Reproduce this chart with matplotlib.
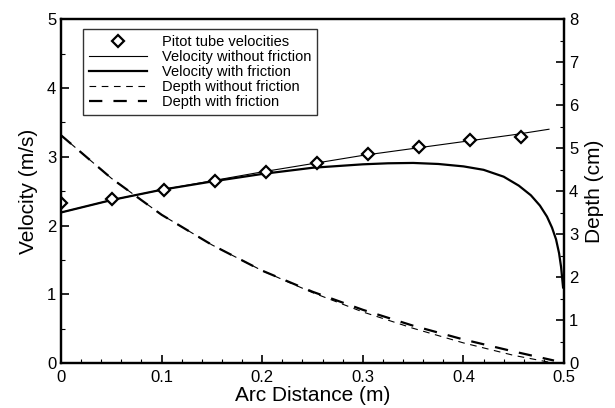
import numpy as np
import matplotlib.pyplot as plt
from matplotlib.ticker import MultipleLocator

plt.rcParams['font.family'] = ['Liberation Sans', 'DejaVu Sans']

# pitot tube measurements
pitot_x = [0.0, 0.051, 0.102, 0.153, 0.204, 0.254, 0.305, 0.356, 0.406, 0.457]
pitot_v = [2.33, 2.38, 2.52, 2.65, 2.78, 2.91, 3.04, 3.14, 3.24, 3.29]

# velocity without friction
vnf_x = [0.0, 0.05, 0.1, 0.15, 0.2, 0.25, 0.3, 0.35, 0.4, 0.45, 0.485]
vnf_v = [2.19, 2.37, 2.52, 2.65, 2.78, 2.90, 3.02, 3.12, 3.22, 3.32, 3.40]

# velocity with friction
vf_x = [0.0, 0.05, 0.1, 0.15, 0.2, 0.25, 0.3, 0.325, 0.35, 0.375, 0.4, 0.42,
        0.44, 0.455, 0.467, 0.476, 0.483, 0.488, 0.492, 0.495, 0.497, 0.499]
vf_v = [2.19, 2.37, 2.52, 2.64, 2.75, 2.84, 2.89, 2.905, 2.91, 2.895, 2.86, 2.81,
        2.71, 2.58, 2.44, 2.29, 2.13, 1.97, 1.80, 1.60, 1.40, 1.10]

# depth (cm)
d_x = [0.0, 0.05, 0.1, 0.15, 0.2, 0.25, 0.3, 0.35, 0.4, 0.45, 0.49]
dnf = [5.30, 4.30, 3.45, 2.75, 2.15, 1.64, 1.19, 0.81, 0.47, 0.18, 0.0]
df = [5.30, 4.30, 3.45, 2.75, 2.15, 1.66, 1.24, 0.87, 0.55, 0.27, 0.06]

fig = plt.figure(figsize=(6.15, 4.08), dpi=100)
ax = fig.add_axes([0.0992, 0.110, 0.818, 0.843])
ax2 = ax.twinx()

l1, = ax.plot(pitot_x, pitot_v, linestyle='none', marker='D', markersize=6,
              markerfacecolor='white', markeredgecolor='black', markeredgewidth=1.6,
              label='Pitot tube velocities', zorder=5)
l2, = ax.plot(vnf_x, vnf_v, color='black', lw=0.8, label='Velocity without friction')
l3, = ax.plot(vf_x, vf_v, color='black', lw=1.6, label='Velocity with friction')
l4, = ax2.plot(d_x, dnf, color='black', lw=0.8, dashes=(6, 5), label='Depth without friction')
l5, = ax2.plot(d_x, df, color='black', lw=1.6, dashes=(6, 5), label='Depth with friction')

ax.set_xlim(0, 0.5)
ax.set_ylim(0, 5)
ax2.set_ylim(0, 8)

ax.xaxis.set_major_locator(MultipleLocator(0.1))
ax.xaxis.set_minor_locator(MultipleLocator(0.02))
ax.yaxis.set_major_locator(MultipleLocator(1))
ax.yaxis.set_minor_locator(MultipleLocator(0.5))
ax2.yaxis.set_major_locator(MultipleLocator(1))
ax2.yaxis.set_minor_locator(MultipleLocator(0.5))
ax.xaxis.set_major_formatter(plt.FuncFormatter(lambda v, p: '0' if v == 0 else f'{v:.1f}'))

for a in (ax, ax2):
    a.tick_params(which='major', direction='in', length=6, width=1.2, labelsize=12)
    a.tick_params(which='minor', direction='in', length=3, width=0.8)
    for s in a.spines.values():
        s.set_linewidth(1.6)
ax.tick_params(axis='x', pad=5)

ax.set_xlabel('Arc Distance (m)', fontsize=15, labelpad=1)
ax.set_ylabel('Velocity (m/s)', fontsize=15, labelpad=6)
ax2.set_ylabel('Depth (cm)', fontsize=15, labelpad=5)

leg = ax2.legend(handles=[l1, l2, l3, l4, l5], loc='upper left',
                 bbox_to_anchor=(0.044, 0.972), fontsize=10.5, frameon=True,
                 fancybox=False, edgecolor='black', handlelength=4.0,
                 handletextpad=1.0, borderpad=0.4, labelspacing=0.08,
                 borderaxespad=0)
leg.get_frame().set_linewidth(1.0)

plt.savefig('out.png', dpi=100)
